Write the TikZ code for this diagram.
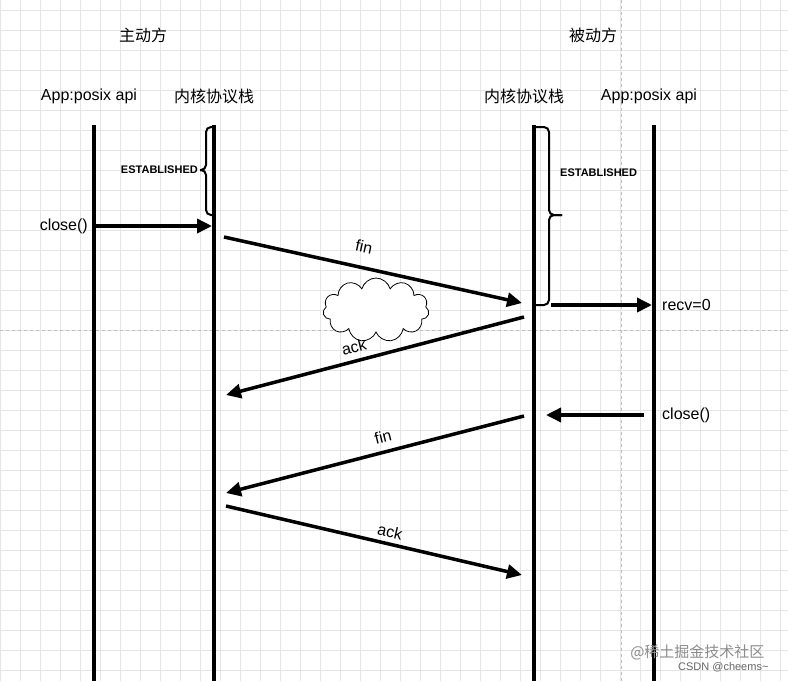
\documentclass[tikz,border=0pt]{standalone}
\usepackage{fontspec}
\setmainfont{Liberation Sans}
\newfontfamily\cjk{Noto Sans CJK SC}
\usetikzlibrary{arrows.meta,shapes.symbols}
\begin{document}
\begin{tikzpicture}[x=1pt,y=-1pt,
  life/.style={line width=3.5pt},
  msg/.style={line width=3.5pt,-{Triangle[length=15pt,width=14pt]}},
  brc/.style={line width=2pt,rounded corners=5pt},
  lbl/.style={font=\fontsize{16}{18}\selectfont,inner sep=1pt},
  small/.style={font=\fontsize{11}{13}\selectfont\bfseries,inner sep=1pt}]
\fill[white] (0,0) rectangle (788,681);
\useasboundingbox (0,0) rectangle (788,681);
\foreach \i in {0,20,...,780} \draw[black!10,line width=0.7pt] (\i,0) -- (\i,681);
\foreach \j in {10,30,...,670} \draw[black!10,line width=0.7pt] (0,\j) -- (788,\j);
\draw[black!25,dashed,line width=0.7pt] (0,330) -- (788,330);
\draw[black!25,dashed,line width=0.7pt] (621,0) -- (621,681);
% headers
\node[lbl] (h1) at (143,35) {\cjk 主动方};
\node[lbl] (h2) at (593,35) {\cjk 被动方};
\node[lbl] (a1) at (89,96) {App:posix api};
\node[lbl] (k1) at (214,96) {\cjk 内核协议栈};
\node[lbl] (k2) at (524,96) {\cjk 内核协议栈};
\node[lbl] (a2) at (649,96) {App:posix api};
% lifelines
\coordinate (l1t) at (94,125); \coordinate (l1b) at (94,681);
\coordinate (l2t) at (214,125); \coordinate (l2b) at (214,681);
\coordinate (l3t) at (534,125); \coordinate (l3b) at (534,681);
\coordinate (l4t) at (654,125); \coordinate (l4b) at (654,681);
\draw[life] (l1t) -- (l1b);
\draw[life] (l2t) -- (l2b);
\draw[life] (l3t) -- (l3b);
\draw[life] (l4t) -- (l4b);
% braces
\draw[brc] (214,127) -- (206,127) -- (206,170) -- (200,170);
\draw[brc] (200,170) -- (206,170) -- (206,215) -- (214,215);
\node[small,anchor=east] (e1) at (199,170) {ESTABLISHED};
\draw[brc] (534,127) -- (549,127) -- (549,215) -- (562,215);
\draw[brc] (562,215) -- (549,215) -- (549,305) -- (534,305);
\node[small,anchor=west] (e2) at (559,173) {ESTABLISHED};
% cloud
\node[cloud,draw,cloud puffs=11,aspect=1.7,minimum width=106pt,minimum height=64pt,line width=0.8pt,fill=white] (cl) at (376,310) {};
% messages
\coordinate (c1s) at (96,226); \coordinate (c1e) at (212,226);
\draw[msg] (c1s) -- (c1e);
\node[lbl,anchor=east] (c1) at (89,226) {close()};
\coordinate (f1s) at (224,237); \coordinate (f1e) at (522,303);
\draw[msg] (f1s) -- (f1e);
\node[lbl,rotate=-12] (f1) at (364,247) {fin};
\coordinate (k1s) at (524,317); \coordinate (k1e) at (226,395);
\draw[msg] (k1s) -- (k1e);
\node[lbl,rotate=14] (ak1) at (354,347) {ack};
\coordinate (r1s) at (551,305); \coordinate (r1e) at (652,305);
\draw[msg] (r1s) -- (r1e);
\node[lbl,anchor=west] (r1) at (661,305) {recv=0};
\coordinate (c2s) at (644,415); \coordinate (c2e) at (546,415);
\draw[msg] (c2s) -- (c2e);
\node[lbl,anchor=west] (c2) at (661,415) {close()};
\coordinate (f2s) at (524,416); \coordinate (f2e) at (226,493);
\draw[msg] (f2s) -- (f2e);
\node[lbl,rotate=14] (f2) at (383,437) {fin};
\coordinate (k2s) at (226,506); \coordinate (k2e) at (522,575);
\draw[msg] (k2s) -- (k2e);
\node[lbl,rotate=-13] (ak2) at (390,532) {ack};
% watermark
\node[black!45,font=\fontsize{15}{16}\selectfont,anchor=east] (w1) at (768,652) {\cjk @稀土掘金技术社区};
\node[black!60,font=\fontsize{11}{12}\selectfont,anchor=east] (w2) at (772,667) {CSDN @cheems\textasciitilde};
\end{tikzpicture}
\end{document}
